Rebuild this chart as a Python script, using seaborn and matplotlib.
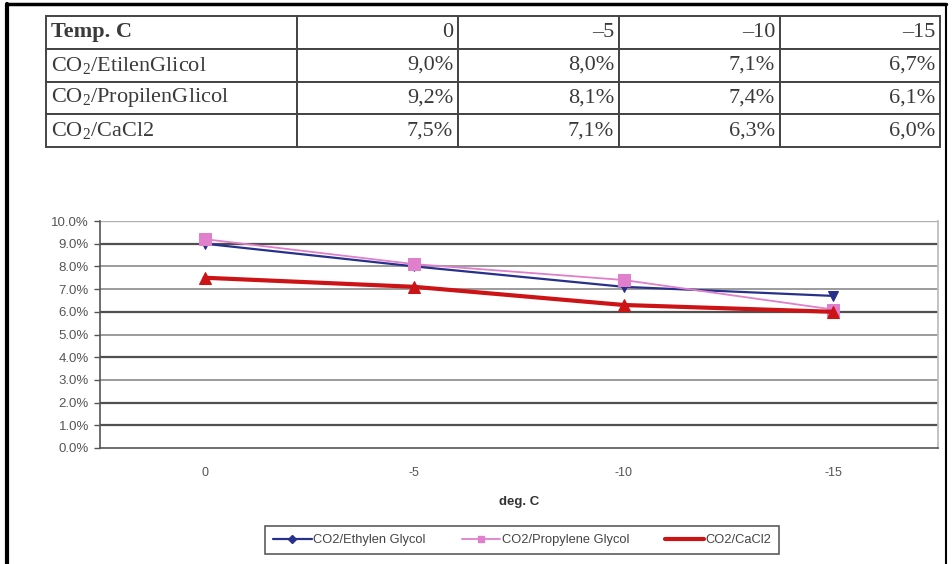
import numpy as np
import pandas as pd
import seaborn as sns
import matplotlib
matplotlib.use("Agg")
import matplotlib.pyplot as plt
from matplotlib.lines import Line2D
from matplotlib.ticker import PercentFormatter, FixedLocator

# data
temps = [0, -5, -10, -15]
series_table = ["CO$_2$/EtilenGlicol", "CO$_2$/PropilenGlicol", "CO$_2$/CaCl2"]
series_legend = ["CO2/Ethylen Glycol", "CO2/Propylene Glycol", "CO2/CaCl2"]
etilen = [9.0, 8.0, 7.1, 6.7]
propilen = [9.2, 8.1, 7.4, 6.1]
cacl2 = [7.5, 7.1, 6.3, 6.0]

colors = ["#27318c", "#e07fcb", "#cc1417"]
markers = ["v", "s", "^"]
msizes = [7, 8, 9]
lwidths = [1.6, 1.3, 3.0]

sns.set_theme(style="white")
plt.rcParams["font.family"] = ["Liberation Sans", "DejaVu Sans"]
plt.rcParams["mathtext.fontset"] = "custom"
plt.rcParams["mathtext.rm"] = "Liberation Serif"
plt.rcParams["mathtext.it"] = "Liberation Serif:italic"

fig = plt.figure(figsize=(9.53, 5.64), dpi=100)
W, H = 953, 564

# ---- table at the top ----
tax = fig.add_axes([46 / W, 1 - 147 / H, (940 - 46) / W, (147 - 16) / H])
tax.axis("off")
fmt = lambda v: f"{v:.1f}%".replace(".", ",")
header = ["Temp. C"] + [str(t).replace("-", "\u2013") for t in temps]
rows = [header]
for name, vals in zip(series_table, [etilen, propilen, cacl2]):
    rows.append([name] + [fmt(v) for v in vals])
cw = np.array([251, 161, 161, 161, 160], dtype=float)
tbl = tax.table(cellText=rows, colWidths=list(cw / cw.sum()), bbox=[0, 0, 1, 1])
tbl.auto_set_font_size(False)
for (r, c), cell in tbl.get_celld().items():
    cell.set_edgecolor("#444444")
    cell.set_linewidth(1.4)
    cell.get_text().set_fontsize(16)
    cell.get_text().set_fontfamily("Liberation Serif")
    cell.get_text().set_color("#3a3a3a")
    if c == 0:
        cell._loc = "left"
        cell.PAD = 0.02
        cell.get_text().set_ha("left")
    else:
        cell._loc = "right"
        cell.PAD = 0.03
        cell.get_text().set_ha("right")
    if r == 0 and c == 0:
        cell.get_text().set_fontweight("bold")

# ---- line chart ----
ax = fig.add_axes([100 / W, 1 - 448 / H, (938 - 100) / W, (448 - 221) / H])
xpos = np.arange(len(temps))
for vals, col, mk, ms, lw in zip([etilen, propilen, cacl2], colors, markers, msizes, lwidths):
    sns.lineplot(x=xpos, y=vals, ax=ax, color=col, marker=mk, markersize=ms,
                 linewidth=lw, markeredgecolor=col, zorder=3)

ax.set_xlim(-0.5, len(temps) - 0.5)
ax.set_ylim(0, 10)
ax.yaxis.set_major_locator(FixedLocator(np.arange(0, 10.01, 1.0)))
ax.yaxis.set_major_formatter(PercentFormatter(xmax=100, decimals=1))
ax.set_xticks(xpos)
ax.set_xticklabels([str(t) for t in temps])
ax.set_xticks(np.arange(-0.5, len(temps), 1.0), minor=True)
ax.tick_params(axis="x", which="major", length=0, pad=14, labelsize=9, colors="#555555")
ax.tick_params(axis="x", which="minor", length=4, width=1, color="#555555", direction="out")
ax.tick_params(axis="y", length=4, width=1, color="#555555", direction="out",
               labelsize=9.5, labelcolor="#555555", left=True, pad=4)

grid_dark = [1, 2, 4, 6, 9]
for y in np.arange(1, 10.01, 1.0):
    if y == 10:
        ax.axhline(y, color="#b0b0b0", lw=1.0, zorder=1)
    elif y in grid_dark:
        ax.axhline(y, color="#505050", lw=1.6, zorder=1)
    else:
        ax.axhline(y, color="#8a8a8a", lw=1.2, zorder=1)

ax.spines["top"].set_visible(False)
ax.spines["right"].set_color("#bbbbbb")
ax.spines["left"].set_color("#555555")
ax.spines["bottom"].set_color("#555555")
ax.spines["left"].set_linewidth(1.2)
ax.spines["bottom"].set_linewidth(1.2)
ax.set_xlabel("deg. C", fontsize=9.5, fontweight="bold", color="#333333", labelpad=12)
ax.set_ylabel("")

handles = [Line2D([0], [0], color=c, lw=lw, marker=(mk if i < 2 else None), markersize=4)
           for i, (c, lw, mk) in enumerate(zip(colors, lwidths, ["D", "s", None]))]
leg = fig.legend(handles, series_legend, loc="center", bbox_to_anchor=(522 / W, 1 - 540 / H),
                 ncol=3, fontsize=9.3, frameon=True, fancybox=False, handlelength=3.0,
                 columnspacing=2.8, borderpad=0.6, handletextpad=0.1, borderaxespad=0)
leg.get_frame().set_edgecolor("#333333")
leg.get_frame().set_linewidth(1.2)
for t in leg.get_texts():
    t.set_color("#444444")

# outer frame of the scanned page
fig.add_artist(Line2D([7 / W, 7 / W], [0, 1 - 4 / H], color="black", lw=3, transform=fig.transFigure))
fig.add_artist(Line2D([7 / W, 946 / W], [1 - 4 / H, 1 - 4 / H], color="black", lw=2.5, transform=fig.transFigure))
fig.add_artist(Line2D([946 / W, 946 / W], [0, 1 - 4 / H], color="black", lw=1.5, transform=fig.transFigure))

fig.savefig("out.png", dpi=100)
